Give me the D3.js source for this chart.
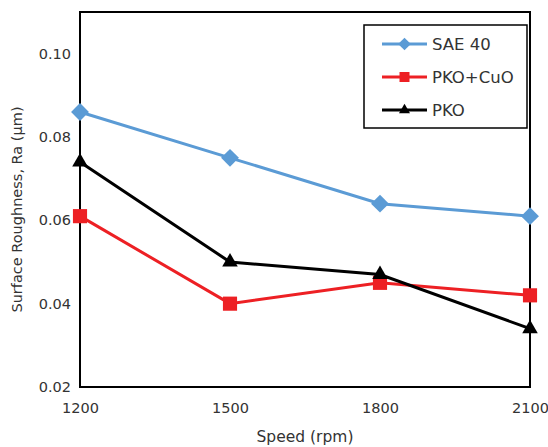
<!DOCTYPE html>
<html>
<head>
<meta charset="utf-8">
<script src="https://cdn.jsdelivr.net/npm/d3@7"></script>
<style>
  body { margin: 0; background: #fff; }
  text { font-family: "DejaVu Sans", sans-serif; fill: #333; }
</style>
</head>
<body>
<svg id="chart" width="548" height="447"></svg>
<script>
const speeds = [1200, 1500, 1800, 2100];
const sae40 = [0.086, 0.075, 0.064, 0.061];
const pkoCuo = [0.061, 0.040, 0.045, 0.042];
const pko = [0.074, 0.050, 0.047, 0.034];
const yTicks = [0.02, 0.04, 0.06, 0.08, 0.10];

// diamond = square turned 45 deg
const seriesList = [
  {name: "SAE 40", values: sae40, color: "#5B9BD5", symbol: d3.symbolSquare, rot: 45, size: 160},
  {name: "PKO+CuO", values: pkoCuo, color: "#ED2024", symbol: d3.symbolSquare, rot: 0, size: 200},
  {name: "PKO", values: pko, color: "#000000", symbol: d3.symbolTriangle, rot: 0, size: 105}
];

const margin = {top: 12, right: 18, bottom: 60, left: 80};
const width = 548, height = 447;
const svg = d3.select("#chart");

const x = d3.scaleLinear().domain([1200, 2100]).range([margin.left, width - margin.right]);
const y = d3.scaleLinear().domain([0.02, 0.11]).range([height - margin.bottom, margin.top]);

// frame
svg.append("rect")
  .attr("x", x(1200)).attr("y", y(0.11))
  .attr("width", x(2100) - x(1200)).attr("height", y(0.02) - y(0.11))
  .attr("fill", "none").attr("stroke", "#000").attr("stroke-width", 2);

const xAxis = svg.append("g")
  .attr("transform", `translate(0,${y(0.02)})`)
  .call(d3.axisBottom(x).tickValues(speeds).tickSize(0).tickPadding(16).tickFormat(d3.format("d")));
xAxis.select(".domain").remove();
xAxis.selectAll("text").style("font-size", "14.5px").attr("fill", "#333");

const yAxis = svg.append("g")
  .attr("transform", `translate(${x(1200)},0)`)
  .call(d3.axisLeft(y).tickValues(yTicks).tickSize(0).tickPadding(9).tickFormat(d3.format(".2f")));
yAxis.select(".domain").remove();
yAxis.selectAll("text").style("font-size", "14.5px").attr("fill", "#333");

svg.append("text")
  .attr("x", (x(1200) + x(2100)) / 2).attr("y", 442)
  .attr("text-anchor", "middle").style("font-size", "15.5px")
  .text("Speed (rpm)");

svg.append("text")
  .attr("transform", `translate(22,${(y(0.02) + y(0.11)) / 2 + 10}) rotate(-90)`)
  .attr("text-anchor", "middle").style("font-size", "14.5px")
  .text("Surface Roughness, Ra (µm)");

const line = d3.line().x((d, i) => x(speeds[i])).y(d => y(d));

seriesList.forEach(s => {
  svg.append("path")
    .datum(s.values)
    .attr("d", line)
    .attr("fill", "none").attr("stroke", s.color).attr("stroke-width", 3);
  svg.selectAll(null)
    .data(s.values)
    .enter().append("path")
    .attr("transform", (d, i) => `translate(${x(speeds[i])},${y(d)}) rotate(${s.rot})`)
    .attr("d", d3.symbol().type(s.symbol).size(s.size))
    .attr("fill", s.color);
});

// legend
const legend = svg.append("g").attr("transform", "translate(364,25)");
legend.append("rect")
  .attr("width", 163).attr("height", 103)
  .attr("fill", "#fff").attr("stroke", "#000").attr("stroke-width", 1.5);
seriesList.forEach((s, i) => {
  const ly = 19 + i * 33;
  legend.append("line")
    .attr("x1", 18).attr("x2", 63).attr("y1", ly).attr("y2", ly)
    .attr("stroke", s.color).attr("stroke-width", 3);
  legend.append("path")
    .attr("transform", `translate(40.5,${ly}) rotate(${s.rot})`)
    .attr("d", d3.symbol().type(s.symbol).size(s.size * 0.5))
    .attr("fill", s.color);
  legend.append("text")
    .attr("x", 68).attr("y", ly).attr("dy", "0.35em")
    .style("font-size", "16.5px")
    .text(s.name);
});
</script>
</body>
</html>
